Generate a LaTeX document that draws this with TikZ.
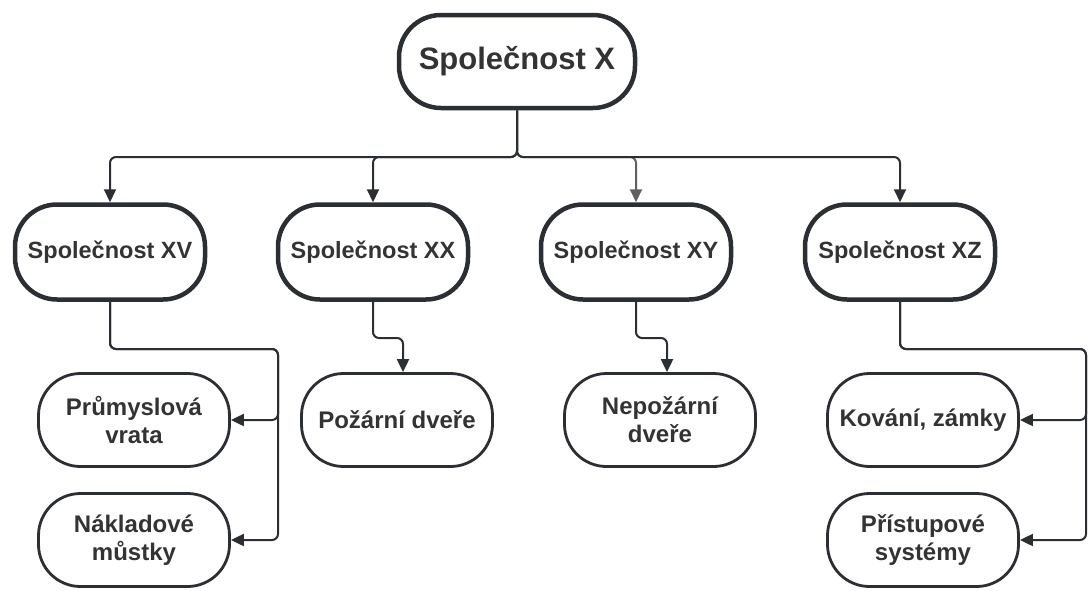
\documentclass[tikz,border=0pt]{standalone}
\usepackage{fontspec}
\setmainfont{Liberation Sans}
\usetikzlibrary{arrows.meta}
\definecolor{ink}{HTML}{2B2E33}
\definecolor{txt}{HTML}{333333}
\definecolor{soft}{HTML}{606060}
\tikzset{
  box/.style={draw=ink, rounded corners=42pt, align=center, text=txt,
    font=\bfseries\fontsize{24}{28}\selectfont, inner sep=0pt},
  toplevel/.style={box, line width=4.5pt, minimum width=236pt, minimum height=93pt,
    font=\bfseries\fontsize{31}{36}\selectfont},
  company/.style={box, line width=4.5pt, minimum width=190pt, minimum height=95pt,
    font=\bfseries\fontsize{23.5}{28}\selectfont},
  product/.style={box, line width=2.8pt, minimum width=191pt, minimum height=93pt},
  conn/.style={draw=ink, line width=2pt, rounded corners=6pt,
    -{Triangle[length=13pt,width=12pt]}},
}
\begin{document}
\begin{tikzpicture}[x=1pt,y=-1pt]
\useasboundingbox (0,0) rectangle (1090,590);

% tree levels
\node[toplevel] (X)  at (517,61.5) {Společnost X};

\node[company] (XV) at (110,252) {Společnost XV};
\node[company] (XX) at (373,252) {Společnost XX};
\node[company] (XY) at (636,252) {Společnost XY};
\node[company] (XZ) at (900,252) {Společnost XZ};

\node[product] (P1) at (134,420) {Průmyslová\\vrata};
\node[product] (P2) at (134,540) {Nákladové\\můstky};
\node[product] (F1) at (397,420) {Požární dveře};
\node[product] (F2) at (660,420) {Nepožární\\dveře};
\node[product] (K1) at (923,420) {Kování, zámky};
\node[product] (K2) at (923,540) {Přístupové\\systémy};

% bends of the connectors
\coordinate (bar) at (517,157);
\coordinate (vL)  at (278,349);
\coordinate (vR)  at (1086,349);
\coordinate (kF1) at (403,338);
\coordinate (kF2) at (667,338);

% first level
\draw[conn] (X.south) -- (bar) -| (XV.north);
\draw[conn] (X.south) -- (bar) -| (XX.north);
\draw[conn, draw=soft] (X.south) -- (bar) -| (XY.north);
\draw[conn] (X.south) -- (bar) -| (XZ.north);

% second level
\draw[conn] (XV.south) |- (vL) |- (P1.east);
\draw[conn] (XV.south) |- (vL) |- (P2.east);
\draw[conn] (XX.south) |- (kF1) -- (kF1 |- F1.north);
\draw[conn] (XY.south) |- (kF2) -- (kF2 |- F2.north);
\draw[conn] (XZ.south) |- (vR) |- (K1.east);
\draw[conn] (XZ.south) |- (vR) |- (K2.east);
\end{tikzpicture}
\end{document}
